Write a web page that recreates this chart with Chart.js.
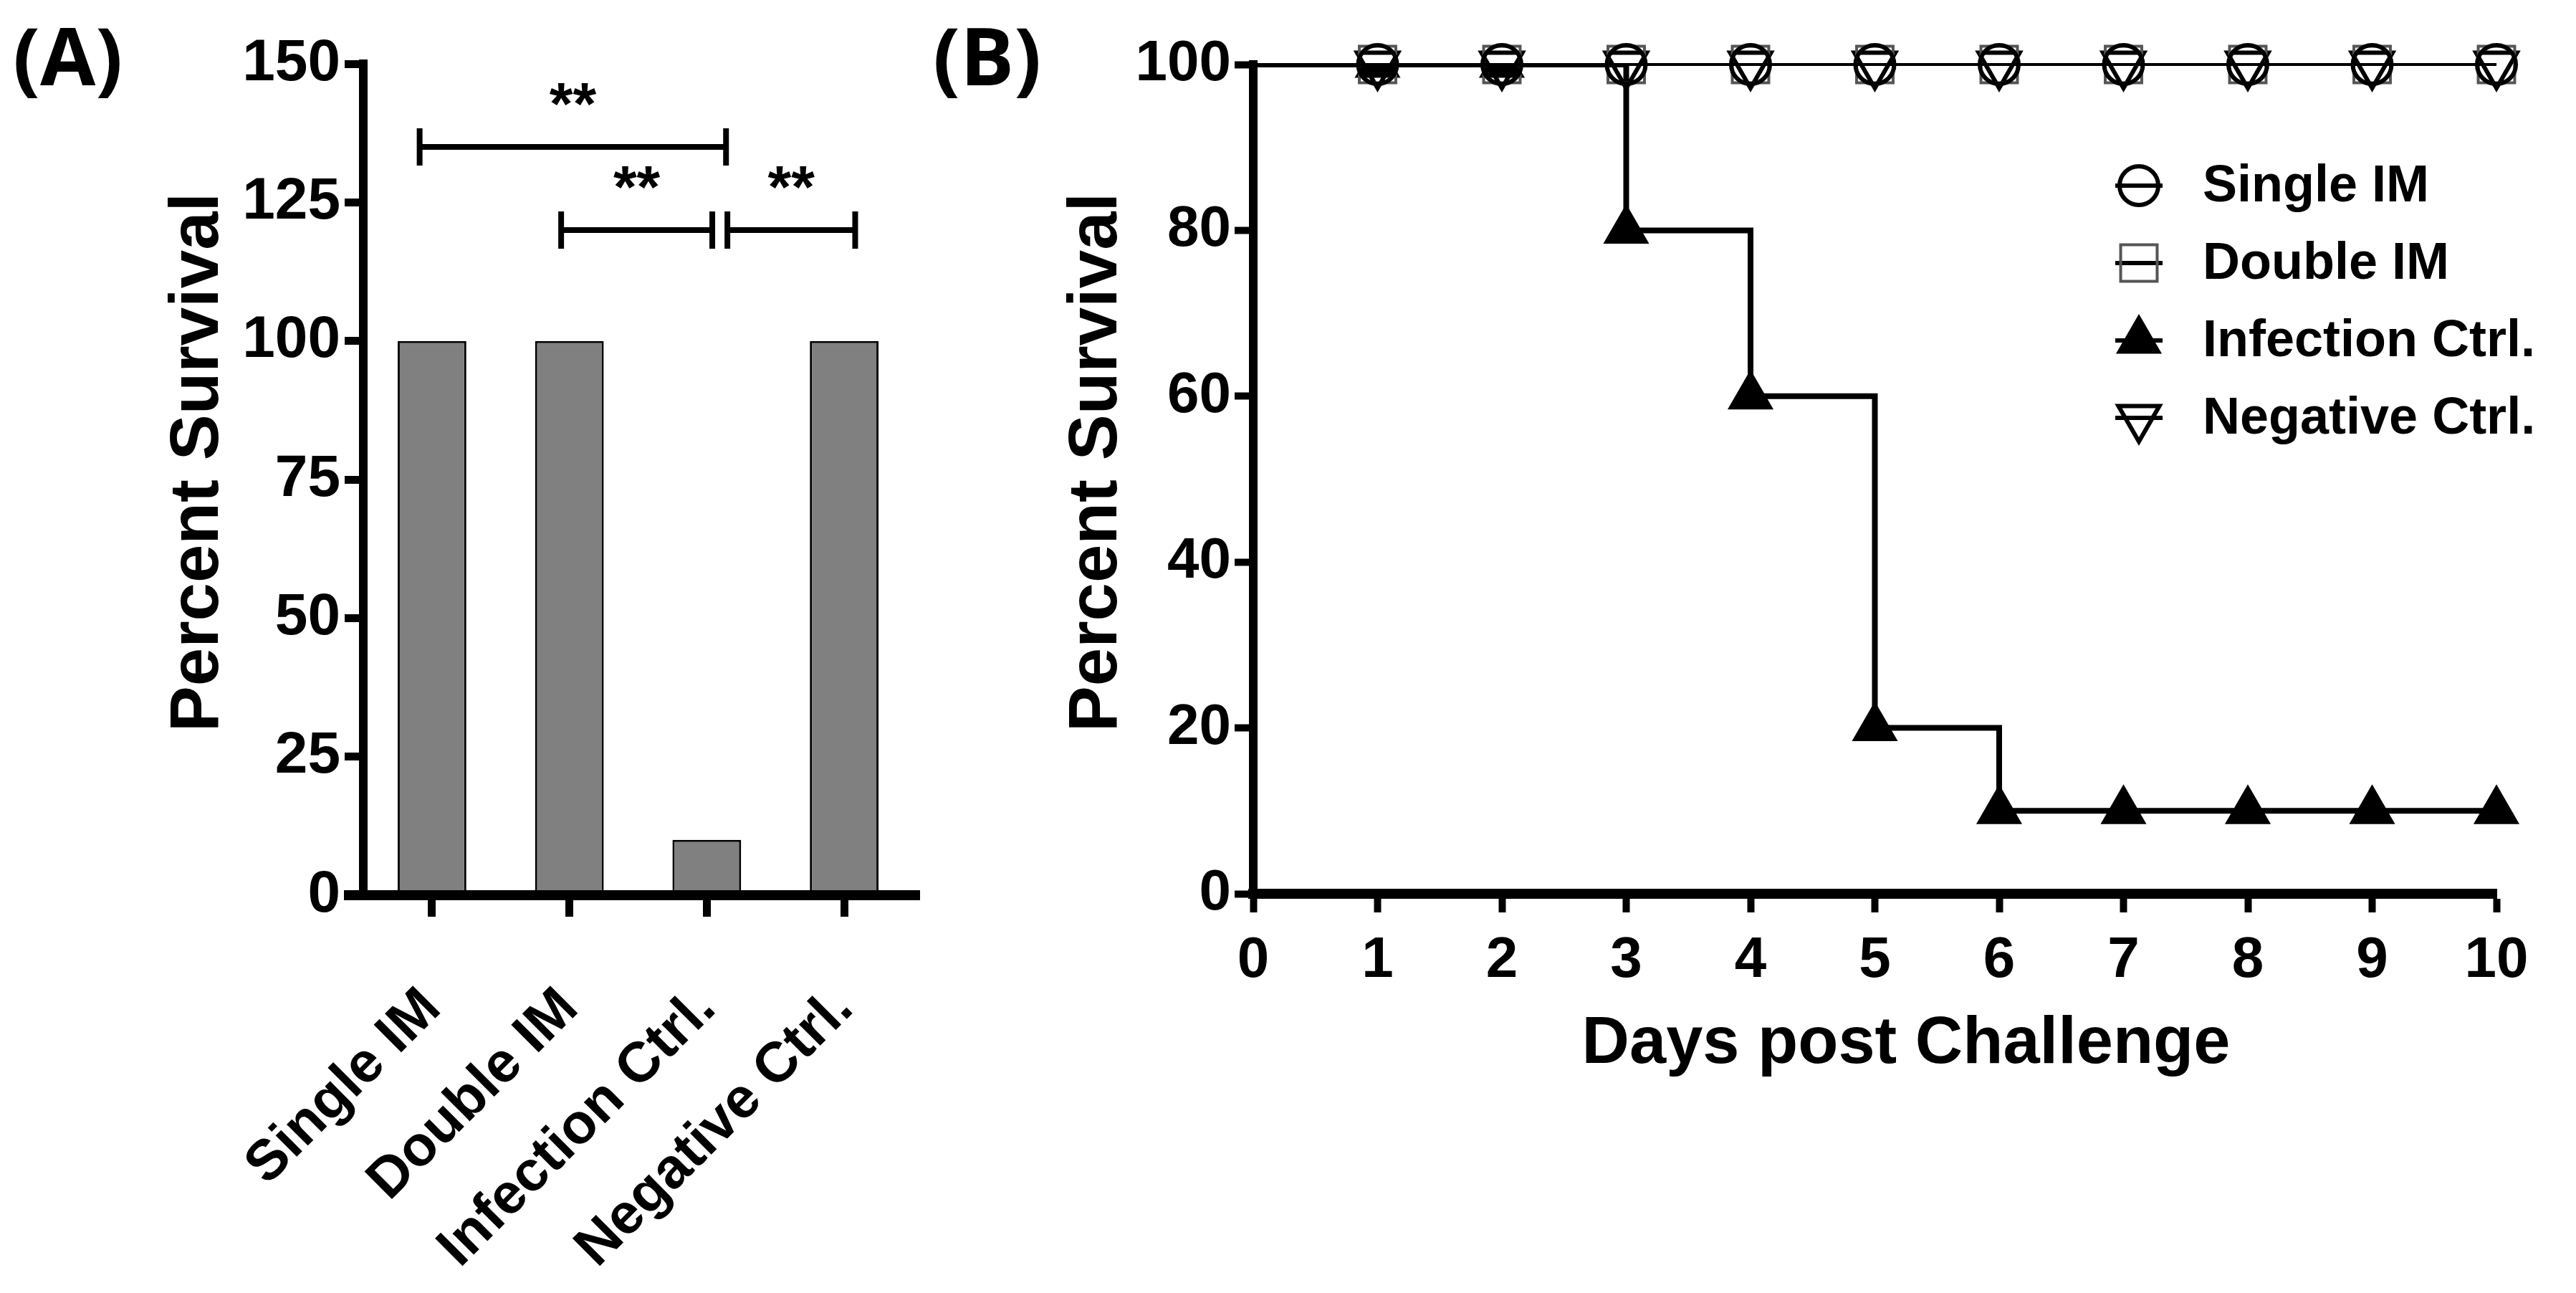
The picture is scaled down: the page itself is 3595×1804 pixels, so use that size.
<!DOCTYPE html>
<html><head><meta charset="utf-8">
<script src="https://cdn.jsdelivr.net/npm/chart.js@4.4.1/dist/chart.umd.min.js"></script>
<style>
html,body{margin:0;padding:0;background:#fff;width:3595px;height:1804px;overflow:hidden;}
#wa{position:absolute;left:0;top:0;width:1310px;height:1804px;}
#wb{position:absolute;left:1330px;top:0;width:2265px;height:1804px;}
.pl{position:absolute;font-family:"Open Sans",sans-serif;font-weight:700;font-size:112px;line-height:1;color:#000;}
</style></head><body>
<div class="pl" style="left:18px;top:20px">(A)</div>
<div class="pl" style="left:1302px;top:20px">(B)</div>
<div id="wa"><canvas id="ca"></canvas></div>
<div id="wb"><canvas id="cb"></canvas></div>
<script>
// ---------- Panel A data ----------
const groups = ['Single IM', 'Double IM', 'Infection Ctrl.', 'Negative Ctrl.'];
const survivalPct = [100, 100, 10, 100];
const yTicksA = [0, 25, 50, 75, 100, 125, 150];
const yTitleA = 'Percent Survival';
// significance brackets (category index span, y level), labels
const bracketFrom = [-0.09, 0.94, 2.15];
const bracketTo = [2.14, 2.04, 3.08];
const bracketLevel = [135, 120, 120];
const bracketText = ['**', '**', '**'];
const bracketTextLevel = [142, 127, 127];

// ---------- Panel B data ----------
const days = [0, 1, 2, 3, 4, 5, 6, 7, 8, 9, 10];
const seriesNames = ['Single IM', 'Double IM', 'Infection Ctrl.', 'Negative Ctrl.'];
const singleIM = [100, 100, 100, 100, 100, 100, 100, 100, 100, 100, 100];
const doubleIM = [100, 100, 100, 100, 100, 100, 100, 100, 100, 100, 100];
const infectionCtrl = [100, 100, 100, 80, 60, 20, 10, 10, 10, 10, 10];
const negativeCtrl = [100, 100, 100, 100, 100, 100, 100, 100, 100, 100, 100];
const yTicksB = [0, 20, 40, 60, 80, 100];
const xTicksB = days;
const yTitleB = 'Percent Survival';
const xTitleB = 'Days post Challenge';

const FF = "'Liberation Sans', Arial, sans-serif";
const AXW = 12;

function drawTitle(ctx, text, x, y, rot, size) {
  ctx.save();
  ctx.translate(x, y);
  ctx.rotate(rot);
  ctx.fillStyle = '#000';
  ctx.font = 'bold ' + size + 'px ' + FF;
  ctx.textAlign = 'center'; ctx.textBaseline = 'middle';
  ctx.fillText(text, 0, 0);
  ctx.restore();
}

// ---------- Panel A ----------
const bracketPlugin = {
  id: 'brackets',
  afterDatasetsDraw(chart) {
    const ctx = chart.ctx, xs = chart.scales.x, ys = chart.scales.y;
    ctx.save();
    ctx.strokeStyle = '#000'; ctx.fillStyle = '#000';
    ctx.lineWidth = 8; ctx.lineCap = 'butt';
    for (let i = 0; i < bracketFrom.length; i++) {
      const x1 = xs.getPixelForValue(bracketFrom[i]);
      const x2 = xs.getPixelForValue(bracketTo[i]);
      const y = ys.getPixelForValue(bracketLevel[i]);
      ctx.beginPath();
      ctx.moveTo(x1, y); ctx.lineTo(x2, y);
      ctx.moveTo(x1, y - 26); ctx.lineTo(x1, y + 26);
      ctx.moveTo(x2, y - 26); ctx.lineTo(x2, y + 26);
      ctx.stroke();
      ctx.font = 'bold 84px ' + FF;
      ctx.textAlign = 'center'; ctx.textBaseline = 'middle';
      ctx.fillText(bracketText[i], (x1 + x2) / 2, ys.getPixelForValue(bracketTextLevel[i]));
    }
    ctx.restore();
  },
  afterDraw(chart) {
    const ctx = chart.ctx, a = chart.chartArea;
    // Prism-style x axis line that runs slightly past both ends
    ctx.save();
    ctx.strokeStyle = '#000'; ctx.lineWidth = AXW + 2;
    ctx.beginPath();
    ctx.moveTo(a.left - 27, a.bottom); ctx.lineTo(a.right + 10, a.bottom);
    ctx.stroke();
    ctx.restore();
    drawTitle(ctx, yTitleA, 278, 645, -Math.PI / 2, 96);
  }
};

new Chart(document.getElementById('ca'), {
  type: 'bar',
  data: {
    labels: groups,
    datasets: [{
      data: survivalPct,
      backgroundColor: '#808080',
      borderColor: '#000',
      borderWidth: 3,
      borderSkipped: 'bottom',
      barPercentage: 0.5,
      categoryPercentage: 1
    }]
  },
  options: {
    responsive: true, maintainAspectRatio: false, animation: false, devicePixelRatio: 1,
    layout: { padding: { left: 0, top: 89, right: 36, bottom: 0 } },
    plugins: { legend: { display: false }, tooltip: { enabled: false } },
    scales: {
      x: {
        grid: { display: true, offset: false, drawOnChartArea: false, drawTicks: true, tickLength: 30, tickWidth: 11, tickColor: '#000' },
        border: { display: true, width: AXW + 2, color: '#000' },
        ticks: { color: '#000', font: { family: FF, size: 79, weight: 'bold' }, minRotation: 45, maxRotation: 45, padding: 82, autoSkip: false },
        afterFit: s => { s.height = 1804 - 1249; s.paddingLeft = 0; s.paddingRight = 0; }
      },
      y: {
        min: 0, max: 150,
        afterBuildTicks: s => { s.ticks = yTicksA.map(v => ({ value: v })); },
        grid: { display: true, drawOnChartArea: false, drawTicks: true, tickLength: 26, tickWidth: 11, tickColor: '#000' },
        border: { display: true, width: AXW, color: '#000' },
        ticks: { color: '#000', font: { family: FF, size: 82, weight: 'bold' }, padding: 6 },
        afterFit: s => { s.width = 507; }
      }
    }
  },
  plugins: [bracketPlugin]
});

// ---------- Panel B ----------
const markerDefs = [
  { style: 'circle', r: 27, rot: 0, fill: 'rgba(0,0,0,0)', stroke: '#000', lw: 6 },
  { style: 'rect', r: 36, rot: 0, fill: 'rgba(0,0,0,0)', stroke: '#555', lw: 4 },
  { style: 'triangle', r: 34, rot: 0, fill: '#000', stroke: '#000', lw: 3 },
  { style: 'triangle', r: 33, rot: 180, fill: 'rgba(0,0,0,0)', stroke: '#000', lw: 6 }
];
const seriesValues = [singleIM, doubleIM, infectionCtrl, negativeCtrl];

function drawMarker(ctx, m, x, y) {
  ctx.save();
  ctx.beginPath();
  if (m.style === 'circle') {
    ctx.arc(x, y, m.r, 0, Math.PI * 2);
  } else if (m.style === 'rect') {
    const s = Math.SQRT1_2 * m.r;
    ctx.rect(x - s, y - s, 2 * s, 2 * s);
  } else {
    let rad = m.rot * Math.PI / 180;
    for (let k = 0; k < 3; k++) {
      const px = x + Math.sin(rad) * m.r, py = y - Math.cos(rad) * m.r;
      if (k === 0) ctx.moveTo(px, py); else ctx.lineTo(px, py);
      rad += 2 * Math.PI / 3;
    }
    ctx.closePath();
  }
  ctx.fillStyle = m.fill; ctx.fill();
  ctx.lineWidth = m.lw; ctx.strokeStyle = m.stroke; ctx.stroke();
  ctx.restore();
}

const legendPlugin = {
  id: 'kmLegend',
  afterDraw(chart) {
    const ctx = chart.ctx;
    const mx = 2985 - 1330, tx = 3074 - 1330;
    const rows = [259, 367, 475, 583];
    ctx.save();
    for (let i = 0; i < seriesNames.length; i++) {
      const y = rows[i];
      ctx.beginPath();
      ctx.lineWidth = 6; ctx.strokeStyle = '#000';
      ctx.moveTo(mx - 33, y); ctx.lineTo(mx + 33, y); ctx.stroke();
      drawMarker(ctx, markerDefs[i], mx, y);
      ctx.fillStyle = '#000';
      ctx.font = 'bold 72px ' + FF;
      ctx.textAlign = 'left'; ctx.textBaseline = 'middle';
      ctx.fillText(seriesNames[i], tx, y + 2);
    }
    ctx.restore();
    drawTitle(ctx, yTitleB, 1532 - 1330, 645, -Math.PI / 2, 96);
    drawTitle(ctx, xTitleB, 2660 - 1330, 1458, 0, 92);
  }
};

const lineWidths = [4, 4, 8, 4];
const dsB = seriesNames.map((name, i) => ({
  label: name,
  data: days.map((d, j) => ({ x: d, y: seriesValues[i][j] })),
  stepped: 'before',
  borderColor: '#000',
  borderWidth: lineWidths[i],
  pointStyle: markerDefs[i].style,
  pointRadius: days.map(d => d === 0 ? 0 : markerDefs[i].r),
  pointRotation: markerDefs[i].rot,
  pointBackgroundColor: markerDefs[i].fill,
  pointBorderColor: markerDefs[i].stroke,
  pointBorderWidth: markerDefs[i].lw,
  fill: false,
  clip: i === 2 ? { left: false, top: 0, right: false, bottom: false } : false
}));

new Chart(document.getElementById('cb'), {
  type: 'line',
  data: { datasets: dsB },
  options: {
    responsive: true, maintainAspectRatio: false, animation: false, devicePixelRatio: 1,
    layout: { padding: { left: 0, top: 90, right: 2265 - (3484 - 1330), bottom: 0 } },
    plugins: { legend: { display: false }, tooltip: { enabled: false } },
    scales: {
      x: {
        type: 'linear', min: 0, max: 10,
        afterBuildTicks: s => { s.ticks = xTicksB.map(v => ({ value: v })); },
        grid: { display: true, drawOnChartArea: false, drawTicks: true, tickLength: 26, tickWidth: 10, tickColor: '#000' },
        border: { display: true, width: AXW + 2, color: '#000' },
        ticks: { color: '#000', font: { family: FF, size: 80, weight: 'bold' }, padding: 20, maxRotation: 0 },
        afterFit: s => { s.height = 1804 - 1247; }
      },
      y: {
        min: 0, max: 100,
        afterBuildTicks: s => { s.ticks = yTicksB.map(v => ({ value: v })); },
        grid: { display: true, drawOnChartArea: false, drawTicks: true, tickLength: 26, tickWidth: 10, tickColor: '#000' },
        border: { display: true, width: AXW, color: '#000' },
        ticks: { color: '#000', font: { family: FF, size: 80, weight: 'bold' }, padding: 5 },
        afterFit: s => { s.width = 1749 - 1330; }
      }
    }
  },
  plugins: [legendPlugin]
});
</script>
</body></html>
